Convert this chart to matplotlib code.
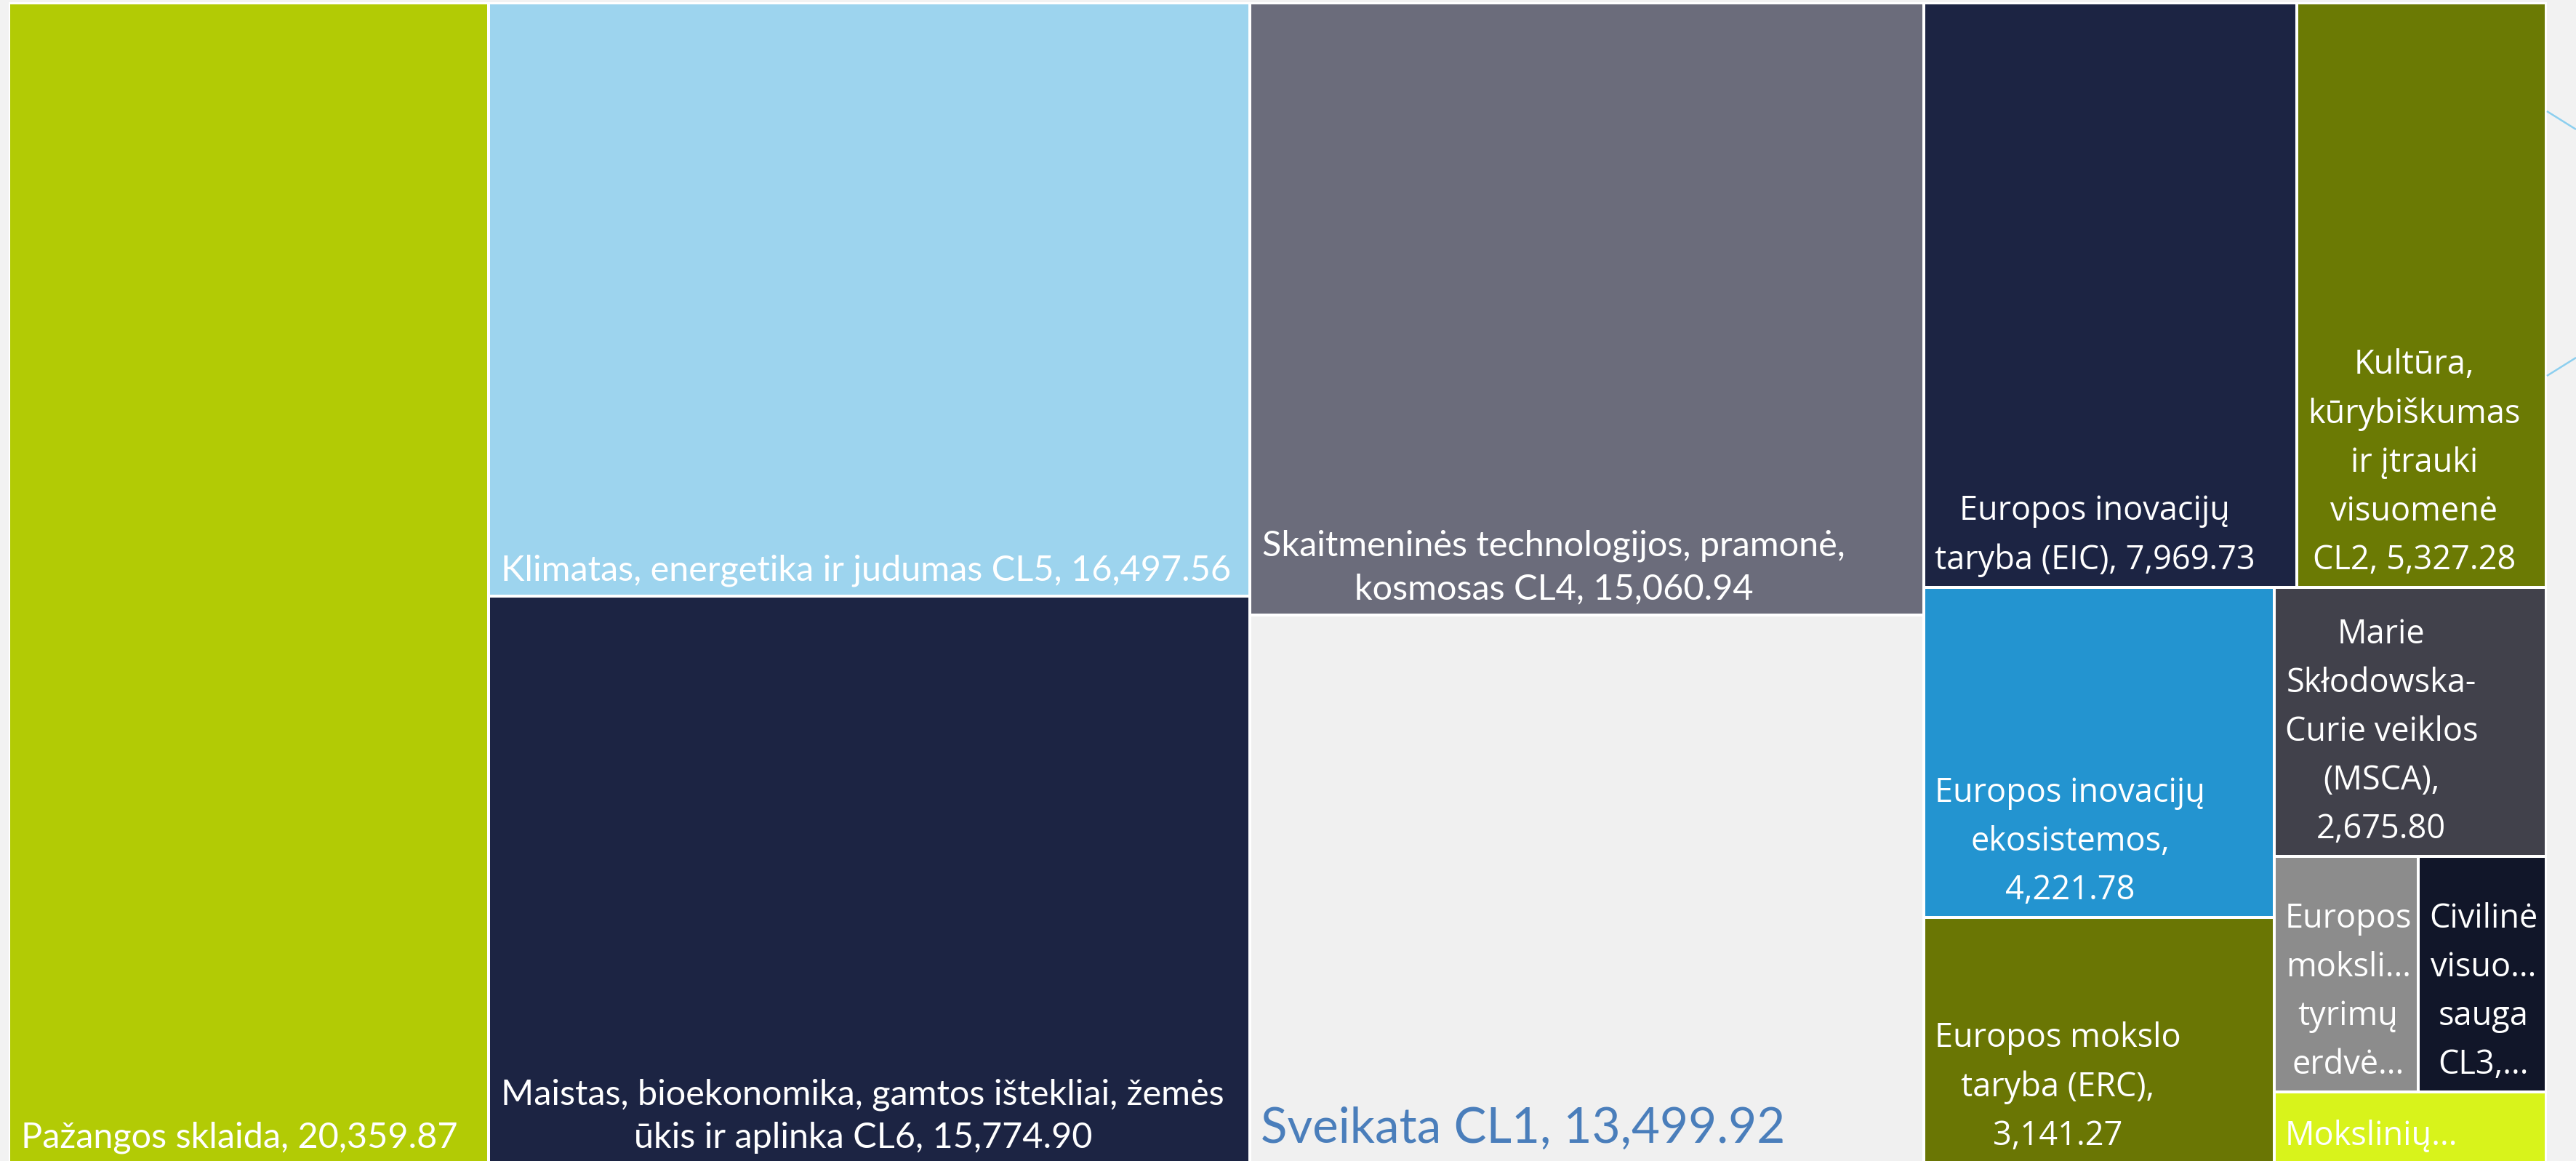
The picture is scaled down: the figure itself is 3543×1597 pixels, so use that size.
import matplotlib
matplotlib.use("Agg")
import matplotlib.pyplot as plt
from matplotlib.patches import Rectangle

# --- data (the three smallest are estimates) ---
names = [
    "Pažangos sklaida",
    "Klimatas, energetika ir judumas CL5",
    "Maistas, bioekonomika, gamtos ištekliai, žemės ūkis ir aplinka CL6",
    "Skaitmeninės technologijos, pramonė, kosmosas CL4",
    "Sveikata CL1",
    "Europos inovacijų taryba (EIC)",
    "Kultūra, kūrybiškumas ir įtrauki visuomenė CL2",
    "Europos inovacijų ekosistemos",
    "Europos mokslo taryba (ERC)",
    "Marie Skłodowska-Curie veiklos (MSCA)",
    "Europos mokslinių tyrimų erdvė",
    "Civilinė visuomenės sauga CL3",
    "Mokslinių tyrimų infrastruktūros",
]
values = [20359.87, 16497.56, 15774.90, 15060.94, 13499.92, 7969.73, 5327.28,
          4221.78, 3141.27, 2675.80, 1240.00, 1100.00, 710.00]

# label text as shown in the tiles (wrapped / truncated like the original)
label_tpl = [
    "Pažangos sklaida, {v}",
    "Klimatas, energetika ir judumas CL5, {v}",
    "Maistas, bioekonomika, gamtos ištekliai, žemės\nūkis ir aplinka CL6, {v}",
    "Skaitmeninės technologijos, pramonė,\nkosmosas CL4, {v}",
    "Sveikata CL1, {v}",
    "Europos inovacijų\ntaryba (EIC), {v}",
    "Kultūra,\nkūrybiškumas\nir įtrauki\nvisuomenė\nCL2, {v}",
    "Europos inovacijų\nekosistemos,\n{v}",
    "Europos mokslo\ntaryba (ERC),\n{v}",
    "Marie\nSkłodowska-\nCurie veiklos\n(MSCA),\n{v}",
    "Europos\nmoksli...\ntyrimų\nerdvė...",
    "Civilinė\nvisuo...\nsauga\nCL3,...",
    "Mokslinių...",
]

colors = ["#b2cb05", "#9dd4ee", "#1c2443", "#6b6c7b", "#f0f0f0", "#1c2443",
          "#6b7a04", "#2394d0", "#6a7604", "#41414b", "#8c8c8c", "#111629",
          "#d8f31b"]

# nesting of the tiles (h = side by side, v = stacked)
layout = ("h", [0, ("v", [1, 2]), ("v", [3, 4]),
                ("v", [("h", [5, 6]),
                       ("h", [("v", [7, 8]),
                              ("v", [9, ("h", [10, 11]), 12])])])])

W, H = 3543, 1597
BG = "#f2f2f2"
GAP = 2.0
X0, Y0, X1, Y1 = 12, 4, 3502, 1600


def node_sum(node):
    if isinstance(node, int):
        return values[node]
    return sum(node_sum(c) for c in node[1])


def place(node, x0, y0, x1, y1, out):
    if isinstance(node, int):
        out[node] = (x0, y0, x1, y1)
        return
    kind, kids = node
    total = node_sum(node)
    pos = x0 if kind == "h" else y0
    for k in kids:
        frac = node_sum(k) / total
        if kind == "h":
            nxt = pos + frac * (x1 - x0)
            place(k, pos, y0, nxt, y1, out)
        else:
            nxt = pos + frac * (y1 - y0)
            place(k, x0, pos, x1, nxt, out)
        pos = nxt


rects = {}
place(layout, X0, Y0, X1, Y1, rects)

fig = plt.figure(figsize=(W / 100, H / 100), dpi=100)
fig.patch.set_facecolor(BG)
ax = fig.add_axes([0, 0, 1, 1])
ax.set_xlim(0, W)
ax.set_ylim(H, 0)
ax.axis("off")

# white frame behind the tiles
ax.add_patch(Rectangle((X0 - 0.5, Y0 - 1), X1 - X0 + 1, Y1 - Y0 + 2,
                       facecolor="white", edgecolor="none"))

calibri_like = ["Lato", "DejaVu Sans"]
segoe_like = ["Open Sans", "DejaVu Sans"]
narrow_set = {0, 1, 2, 3, 4}

for i, (x0, y0, x1, y1) in rects.items():
    ax.add_patch(Rectangle((x0 + GAP, y0 + GAP), (x1 - x0) - 2 * GAP,
                           (y1 - y0) - 2 * GAP, facecolor=colors[i],
                           edgecolor="none"))
    txt = label_tpl[i].format(v=f"{values[i]:,.2f}")
    if i == 4:
        ax.text(x0 + 15, y1 - 16, txt, family=calibri_like, fontsize=48.5,
                color="#4a7ebb", ha="left", va="bottom")
    elif i in narrow_set:
        ax.text(x0 + 17, y1 - 13, txt, family=calibri_like, fontsize=35,
                color="white", ha="left", va="bottom",
                multialignment="center", linespacing=1.43)
    else:
        ax.text(x0 + 15, y1 - 14, txt, family=segoe_like, fontsize=32.5,
                color="white", ha="left", va="bottom",
                multialignment="center", linespacing=1.6)

# connector lines leaving the chart on the right
ax.plot([3503, 3543], [153, 178], color="#8ccfef", lw=1.8, solid_capstyle="butt")
ax.plot([3503, 3543], [517, 492], color="#8ccfef", lw=1.8, solid_capstyle="butt")

fig.savefig("out.png", dpi=100, facecolor=BG)
